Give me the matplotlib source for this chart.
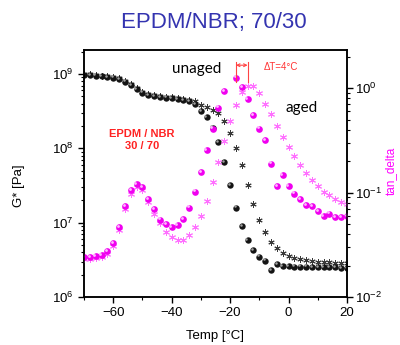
import numpy as np
import matplotlib
matplotlib.use('Agg')
import matplotlib.pyplot as plt
from matplotlib.transforms import offset_copy

plt.rcParams['font.family'] = ['Liberation Sans', 'DejaVu Sans']

# G* [Pa], every 2 degC
temp_g = np.arange(-70, 21, 2)
g_unaged = np.array([9.8e8, 9.7e8, 9.5e8, 9.3e8, 9.1e8, 8.9e8, 8.5e8, 7.9e8, 7.1e8, 6.2e8,
                     5.6e8, 5.2e8, 5.0e8, 4.9e8, 4.8e8, 4.7e8, 4.6e8, 4.5e8, 4.3e8, 3.9e8,
                     3.2e8, 2.6e8, 1.9e8, 1.2e8, 6.5e7, 3.2e7, 1.6e7, 8.9e6, 5.8e6, 4.3e6,
                     3.5e6, 3.1e6, 2.3e6, 2.75e6, 2.6e6, 2.6e6, 2.57e6, 2.57e6, 2.57e6, 2.55e6,
                     2.5e6, 2.5e6, 2.5e6, 2.5e6, 2.45e6, 2.45e6])
g_aged = np.array([1.0e9, 9.9e8, 9.7e8, 9.5e8, 9.3e8, 9.1e8, 8.7e8, 8.1e8, 7.3e8, 6.4e8,
                   5.8e8, 5.4e8, 5.2e8, 5.05e8, 4.95e8, 4.85e8, 4.75e8, 4.65e8, 4.5e8, 4.3e8,
                   3.8e8, 3.6e8, 3.3e8, 2.95e8, 2.3e8, 1.6e8, 1.0e8, 5.9e7, 3.2e7, 1.8e7,
                   1.1e7, 7.4e6, 5.5e6, 4.5e6, 3.9e6, 3.6e6, 3.4e6, 3.2e6, 3.15e6, 3.1e6,
                   3.0e6, 2.95e6, 2.95e6, 2.9e6, 2.9e6, 2.9e6])

# tan delta
temp_tan_unaged = [-70, -68, -66, -64, -62, -60, -58, -56, -54, -52, -50, -48, -46, -44, -42,
                   -40, -38, -36, -34, -32, -30, -28, -26, -24, -22, -18, -16, -14, -12, -10,
                   -8, -6, -4, -2, 0, 2, 4, 6, 8, 10, 12, 14, 16, 18, 20]
tan_unaged = [0.024, 0.024, 0.0245, 0.025, 0.0275, 0.033, 0.047, 0.074, 0.105, 0.12,
              0.112, 0.087, 0.069, 0.055, 0.050, 0.047, 0.049, 0.056, 0.072, 0.102,
              0.158, 0.257, 0.41, 0.65, 0.93, 1.26, 1.02, 0.78, 0.55, 0.41,
              0.32, 0.19, 0.115, 0.148, 0.115, 0.098, 0.087, 0.076, 0.074, 0.066,
              0.060, 0.063, 0.058, 0.058, 0.060]
temp_tan_aged = np.arange(-70, 21, 2)
tan_aged = [0.023, 0.023, 0.0235, 0.024, 0.026, 0.031, 0.044, 0.069, 0.098, 0.112,
            0.105, 0.081, 0.063, 0.051, 0.042, 0.038, 0.0355, 0.0355, 0.039, 0.047,
            0.060, 0.083, 0.126, 0.195, 0.31, 0.48, 0.69, 0.91, 1.05, 1.05,
            0.89, 0.71, 0.56, 0.43, 0.34, 0.275, 0.224, 0.182, 0.155, 0.132,
            0.115, 0.102, 0.095, 0.087, 0.081, 0.078]

fig = plt.figure(figsize=(4.0, 3.45), dpi=100)
ax = fig.add_axes([0.21, 0.139, 0.6575, 0.716])
ax2 = ax.twinx()

hl_ax = offset_copy(ax.transData, fig=fig, x=-0.9, y=0.9, units='points')
hl_ax2 = offset_copy(ax2.transData, fig=fig, x=-0.9, y=0.9, units='points')

# G*
ax.plot(temp_g, g_aged, ls='none', marker=(6, 2, 0), ms=4.5, mew=0.7, color='#3a3a3a')
ax.plot(temp_g, g_unaged, ls='none', marker='o', ms=4.6, mec='none', color='#141414')
ax.plot(temp_g, g_unaged, ls='none', marker='o', ms=1.8, mec='none', color='#a0a0a0',
        transform=hl_ax)

# tan delta
ax2.plot(temp_tan_aged, tan_aged, ls='none', marker=(6, 2, 0), ms=5, mew=0.7,
         color='#ff70ff')
ax2.plot(temp_tan_unaged, tan_unaged, ls='none', marker='o', ms=4.8, mec='none',
         color='#f000f0')
ax2.plot(temp_tan_unaged, tan_unaged, ls='none', marker='o', ms=2.0, mec='none',
         color='#ffb8ff', transform=hl_ax2)

ax.set_yscale('log')
ax2.set_yscale('log')
ax.set_xlim(-70, 20)
ax.set_ylim(1e6, 2.1e9)
ax2.set_ylim(1e-2, 2.32)
ax.set_xticks([-60, -40, -20, 0, 20])
ax.set_xticks([-70, -50, -30, -10, 10], minor=True)
ax2.set_yticks([1e-2, 1e-1, 1e0])

for a in (ax, ax2):
    a.tick_params(which='major', direction='out', length=4, width=1, labelsize=9.5)
    a.tick_params(which='minor', direction='out', length=2.5, width=0.8)
    for s in a.spines.values():
        s.set_linewidth(1.1)
ax2.tick_params(which='major', pad=2)

ax.set_xlabel('Temp [°C]', fontsize=9.5)
ax.xaxis.set_label_coords(0.5, -0.135)
ax.set_ylabel('G* [Pa]', fontsize=9.5)
ax.yaxis.set_label_coords(-0.225, 0.45)
ax2.set_ylabel('tan_delta', fontsize=8.5, color='#ff00ff', va='center')
ax2.yaxis.set_label_coords(1.168, 0.51)

fig.text(0.535, 0.935, 'EPDM/NBR; 70/30', ha='center', va='center', fontsize=16,
         color='#3434b0')

ax.text(0.43, 0.925, 'unaged', transform=ax.transAxes, ha='center', va='center',
        fontsize=11, family=['Lato', 'DejaVu Sans'])
ax.text(0.827, 0.765, 'aged', transform=ax.transAxes, ha='center', va='center',
        fontsize=11, family=['Lato', 'DejaVu Sans'])
ax.text(0.22, 0.635, 'EPDM / NBR\n30 / 70', transform=ax.transAxes, ha='center',
        va='center', fontsize=8, color='#ff2222', fontweight='bold', linespacing=1.3)
ax.text(0.75, 0.93, 'ΔT=4°C', transform=ax.transAxes, ha='center', va='center',
        fontsize=7, color='#ff3333')

# delta T bracket
for t in (-18, -14):
    ax2.plot([t, t], [1.15, 1.8], color='#ff4444', lw=0.8)
ax2.annotate('', xy=(-14, 1.66), xytext=(-18, 1.66),
             arrowprops=dict(arrowstyle='<->', color='#ff4444', lw=0.8,
                             shrinkA=0, shrinkB=0, mutation_scale=5))

fig.savefig('out.png', dpi=100)
